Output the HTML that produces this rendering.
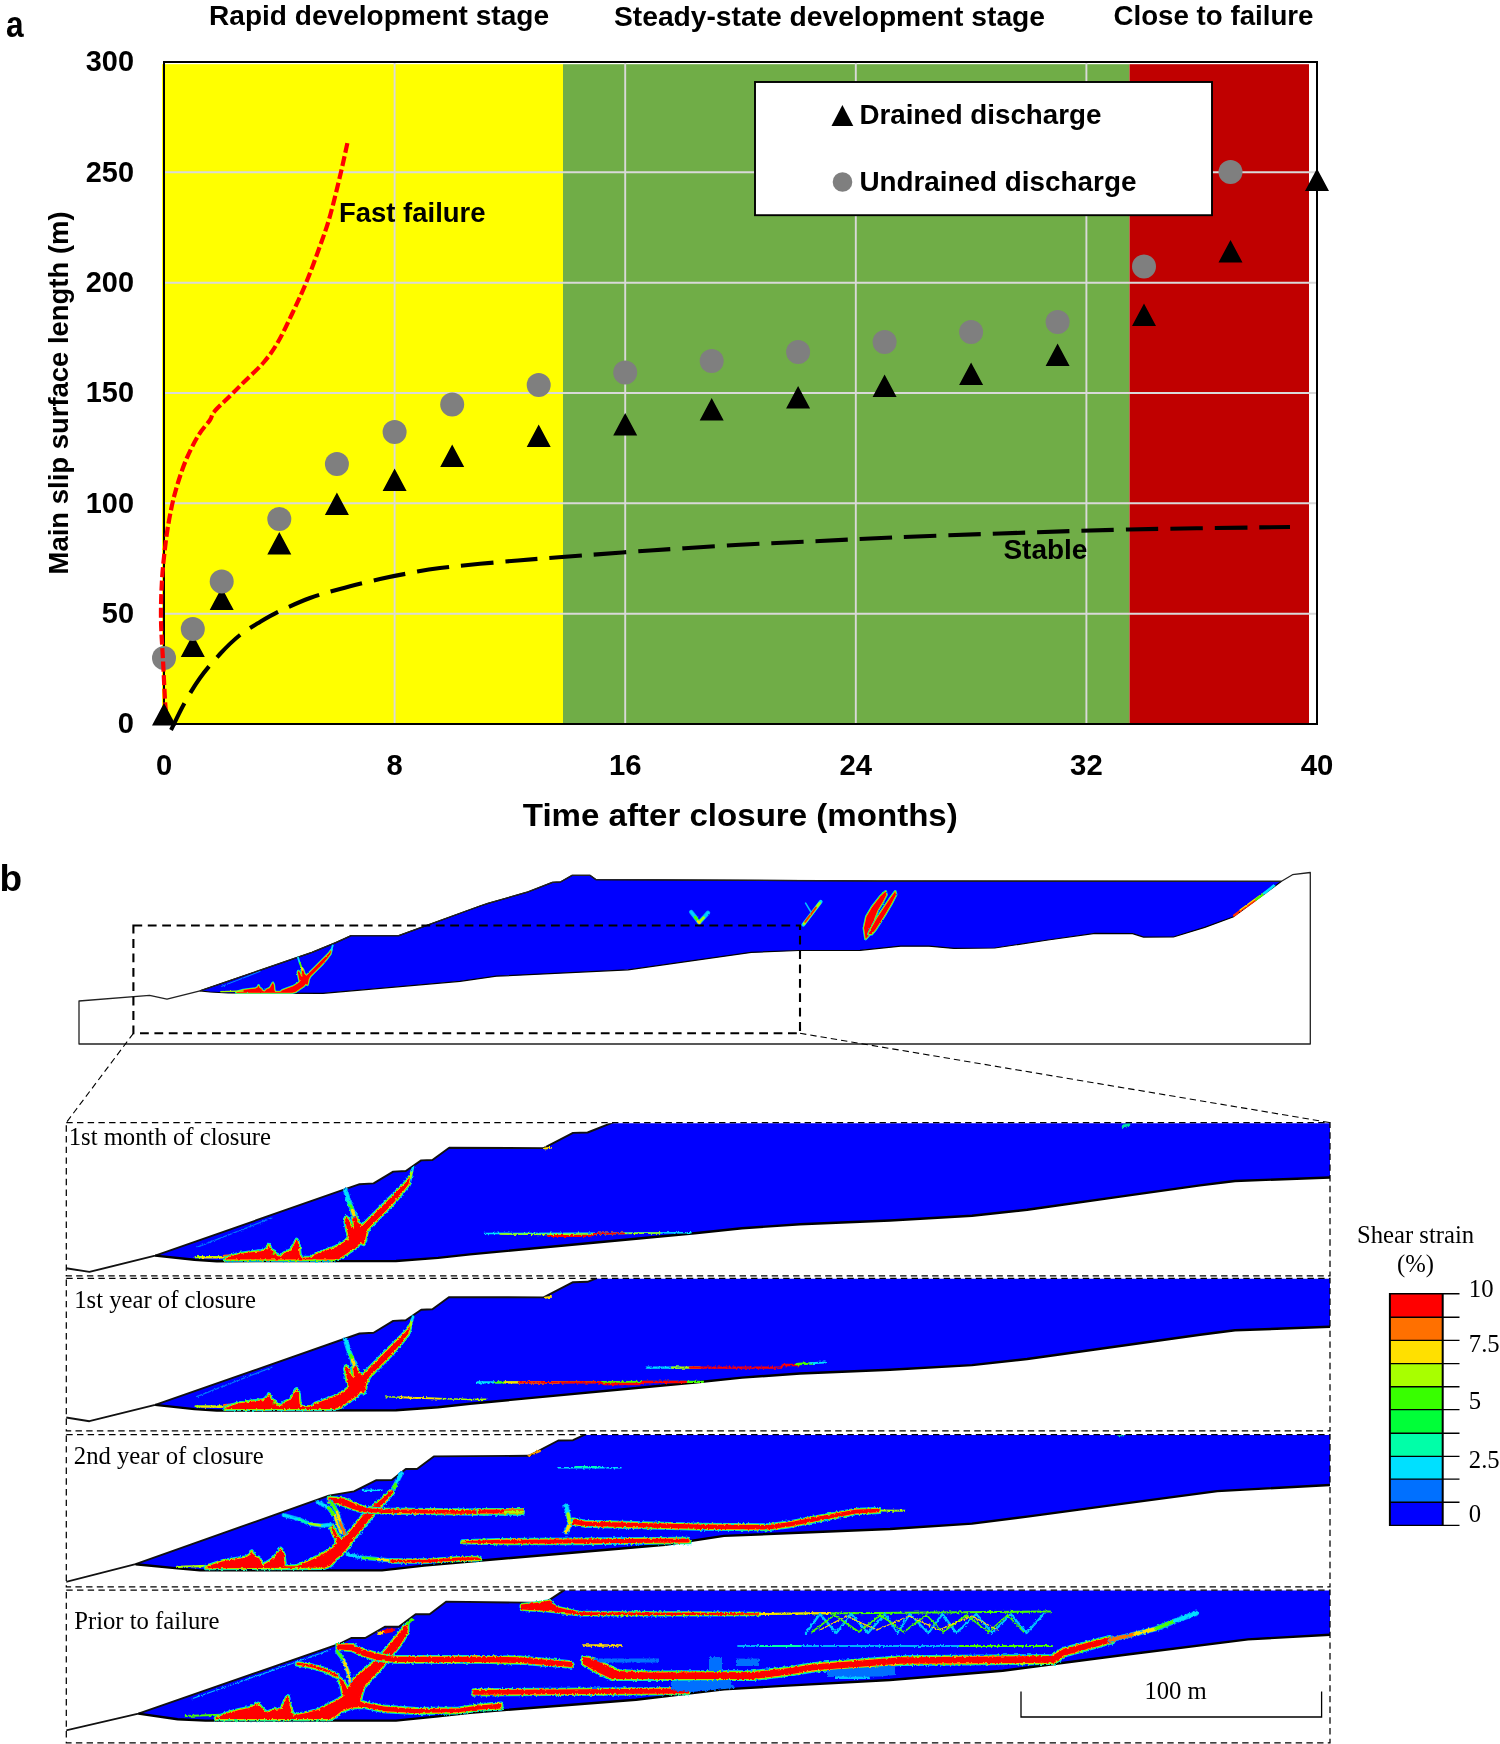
<!DOCTYPE html>
<html lang="en"><head><meta charset="utf-8"><title>Slip surface development</title>
<style>
html,body{margin:0;padding:0;background:#fff}
svg{display:block;will-change:transform}
.sb{font-family:"Liberation Sans", "DejaVu Sans", sans-serif;font-weight:700;fill:#000}
.sr{font-family:"Liberation Serif", "DejaVu Serif", serif;font-weight:400;fill:#000}
</style></head><body>
<svg width="1500" height="1744" viewBox="0 0 1500 1744">
<rect width="1500" height="1744" fill="#fff"/>
<g id="chart">
<rect x="162" y="64.2" width="401" height="659.8" fill="#FFFF00"/>
<rect x="563" y="64.2" width="566.5" height="659.8" fill="#70AD47"/>
<rect x="1129.5" y="64.2" width="179.5" height="659.8" fill="#C00000"/>
<path d="M164.0,613.7H1317.0M164.0,503.3H1317.0M164.0,393.0H1317.0M164.0,282.7H1317.0M164.0,172.3H1317.0M394.6,62.0V724.0M625.2,62.0V724.0M855.8,62.0V724.0M1086.4,62.0V724.0" stroke="#D9D9D9" stroke-width="1.9" fill="none"/>
<rect x="164.0" y="62.0" width="1153.0" height="662.0" fill="none" stroke="#000" stroke-width="2"/>
<path d="M171.0,730.0 C173.2,725.7 179.2,712.7 184.0,704.0 C188.8,695.3 194.0,686.3 200.0,678.0 C206.0,669.7 213.3,661.2 220.0,654.0 C226.7,646.8 233.3,640.3 240.0,635.0 C246.7,629.7 253.3,626.0 260.0,622.0 C266.7,618.0 271.7,615.0 280.0,611.0 C288.3,607.0 300.0,601.7 310.0,598.0 C320.0,594.3 328.3,592.2 340.0,589.0 C351.7,585.8 368.3,581.7 380.0,579.0 C391.7,576.3 400.0,574.8 410.0,573.0 C420.0,571.2 425.0,569.8 440.0,568.0 C455.0,566.2 479.7,563.8 500.0,562.0 C520.3,560.2 537.0,558.9 562.0,557.0 C587.0,555.1 620.3,552.5 650.0,550.5 C679.7,548.5 711.7,546.4 740.0,544.8 C768.3,543.2 794.4,542.2 820.0,541.0 C845.6,539.8 863.6,538.6 893.6,537.4 C923.6,536.1 960.8,534.8 1000.0,533.5 C1039.2,532.2 1080.7,530.6 1129.0,529.5 C1177.3,528.4 1263.2,527.4 1290.0,527.0" fill="none" stroke="#000" stroke-width="4.1" stroke-dasharray="32.4 12" stroke-dashoffset="2.5"/>
<path d="M180.8,657.0L192.8,634.5L204.8,657.0ZM209.7,610.0L221.7,587.5L233.7,610.0ZM267.3,554.5L279.3,532.0L291.3,554.5ZM324.9,515.0L336.9,492.5L348.9,515.0ZM382.6,491.0L394.6,468.5L406.6,491.0ZM440.2,467.0L452.2,444.5L464.2,467.0ZM526.7,447.0L538.7,424.5L550.7,447.0ZM613.2,435.5L625.2,413.0L637.2,435.5ZM699.7,420.5L711.7,398.0L723.7,420.5ZM786.1,408.5L798.1,386.0L810.1,408.5ZM872.6,397.0L884.6,374.5L896.6,397.0ZM959.1,385.0L971.1,362.5L983.1,385.0ZM1045.6,366.0L1057.6,343.5L1069.6,366.0ZM1132.0,326.0L1144.0,303.5L1156.0,326.0ZM1218.5,262.5L1230.5,240.0L1242.5,262.5ZM1305.0,191.0L1317.0,168.5L1329.0,191.0Z" fill="#000"/>
<circle cx="164.0" cy="658" r="12" fill="#7F7F7F"/>
<path d="M166.0,712.0 C165.8,710.0 165.5,708.7 165.0,700.0 C164.5,691.3 163.7,673.3 163.0,660.0 C162.3,646.7 161.2,633.3 161.0,620.0 C160.8,606.7 161.2,593.3 162.0,580.0 C162.8,566.7 164.5,551.7 166.0,540.0 C167.5,528.3 169.2,519.0 171.0,510.0 C172.8,501.0 174.5,494.3 177.0,486.0 C179.5,477.7 182.5,468.3 186.0,460.0 C189.5,451.7 194.0,442.7 198.0,436.0 C202.0,429.3 207.3,424.0 210.0,420.0 C212.7,416.0 210.7,416.0 214.0,412.0 C217.3,408.0 225.0,401.0 230.0,396.0 C235.0,391.0 238.3,387.7 244.0,382.0 C249.7,376.3 258.3,368.7 264.0,362.0 C269.7,355.3 273.3,350.0 278.0,342.0 C282.7,334.0 287.3,323.8 292.0,314.0 C296.7,304.2 301.3,294.3 306.0,283.0 C310.7,271.7 316.0,257.2 320.0,246.0 C324.0,234.8 326.5,228.3 330.0,216.0 C333.5,203.7 338.1,184.2 341.0,172.0 C343.9,159.8 346.3,147.8 347.4,143.0" fill="none" stroke="#FF0000" stroke-width="4.2" stroke-dasharray="10 3.5"/>
<path d="M152.0,725.5L164.0,703.0L176.0,725.5Z" fill="#000"/>
<circle cx="192.8" cy="629" r="12" fill="#7F7F7F"/>
<circle cx="221.7" cy="581.5" r="12" fill="#7F7F7F"/>
<circle cx="279.3" cy="519" r="12" fill="#7F7F7F"/>
<circle cx="336.9" cy="464" r="12" fill="#7F7F7F"/>
<circle cx="394.6" cy="432" r="12" fill="#7F7F7F"/>
<circle cx="452.2" cy="404.5" r="12" fill="#7F7F7F"/>
<circle cx="538.7" cy="385" r="12" fill="#7F7F7F"/>
<circle cx="625.2" cy="372.5" r="12" fill="#7F7F7F"/>
<circle cx="711.7" cy="361" r="12" fill="#7F7F7F"/>
<circle cx="798.1" cy="352" r="12" fill="#7F7F7F"/>
<circle cx="884.6" cy="342" r="12" fill="#7F7F7F"/>
<circle cx="971.1" cy="332" r="12" fill="#7F7F7F"/>
<circle cx="1057.6" cy="322" r="12" fill="#7F7F7F"/>
<circle cx="1144.0" cy="266.5" r="12" fill="#7F7F7F"/>
<circle cx="1230.5" cy="172" r="12" fill="#7F7F7F"/>
<rect x="755" y="82" width="457" height="133.2" fill="#fff" stroke="#000" stroke-width="1.9"/>
<path d="M831.5,126L842.4,105L853.3,126Z" fill="#000"/>
<circle cx="842.5" cy="182" r="9.8" fill="#7F7F7F"/>
<text class="sb" x="859.4" y="124.2" font-size="27.6" textLength="242" lengthAdjust="spacingAndGlyphs">Drained discharge</text>
<text class="sb" x="859.4" y="191.4" font-size="27.6" textLength="277" lengthAdjust="spacingAndGlyphs">Undrained discharge</text>
<text class="sb" x="209" y="25.2" font-size="27" textLength="340" lengthAdjust="spacingAndGlyphs">Rapid development stage</text>
<text class="sb" x="614" y="25.5" font-size="27" textLength="431" lengthAdjust="spacingAndGlyphs">Steady-state development stage</text>
<text class="sb" x="1113.5" y="25" font-size="27" textLength="200" lengthAdjust="spacingAndGlyphs">Close to failure</text>
<text class="sb" x="6" y="36.6" font-size="36" textLength="17.6" lengthAdjust="spacingAndGlyphs">a</text>
<text class="sb" x="339" y="222" font-size="28" textLength="146.5" lengthAdjust="spacingAndGlyphs">Fast failure</text>
<text class="sb" x="1003.4" y="559.2" font-size="28" textLength="84" lengthAdjust="spacingAndGlyphs">Stable</text>
<text class="sb" x="117.8" y="733.3" font-size="30" textLength="16.2" lengthAdjust="spacingAndGlyphs">0</text>
<text class="sb" x="101.8" y="622.9666666666666" font-size="30" textLength="32.2" lengthAdjust="spacingAndGlyphs">50</text>
<text class="sb" x="85.8" y="512.6333333333333" font-size="30" textLength="48.2" lengthAdjust="spacingAndGlyphs">100</text>
<text class="sb" x="85.8" y="402.3" font-size="30" textLength="48.2" lengthAdjust="spacingAndGlyphs">150</text>
<text class="sb" x="85.8" y="291.9666666666667" font-size="30" textLength="48.2" lengthAdjust="spacingAndGlyphs">200</text>
<text class="sb" x="85.8" y="181.63333333333338" font-size="30" textLength="48.2" lengthAdjust="spacingAndGlyphs">250</text>
<text class="sb" x="85.8" y="71.3" font-size="30" textLength="48.2" lengthAdjust="spacingAndGlyphs">300</text>
<text class="sb" x="155.9" y="774.8" font-size="30" textLength="16.2" lengthAdjust="spacingAndGlyphs">0</text>
<text class="sb" x="386.5" y="774.8" font-size="30" textLength="16.2" lengthAdjust="spacingAndGlyphs">8</text>
<text class="sb" x="608.9000000000001" y="774.8" font-size="30" textLength="32.6" lengthAdjust="spacingAndGlyphs">16</text>
<text class="sb" x="839.5" y="774.8" font-size="30" textLength="32.6" lengthAdjust="spacingAndGlyphs">24</text>
<text class="sb" x="1070.1000000000001" y="774.8" font-size="30" textLength="32.6" lengthAdjust="spacingAndGlyphs">32</text>
<text class="sb" x="1300.7" y="774.8" font-size="30" textLength="32.6" lengthAdjust="spacingAndGlyphs">40</text>
<text class="sb" x="522.8" y="825.6" font-size="30.7" textLength="435" lengthAdjust="spacingAndGlyphs">Time after closure (months)</text>
<text class="sb" font-size="28.4" transform="translate(68.2,574.4) rotate(-90)" textLength="363" lengthAdjust="spacingAndGlyphs">Main slip surface length (m)</text>
</g>
<g id="slopes">
<text class="sb" x="-0.5" y="891.2" font-size="37">b</text>
<polygon points="200.0,990.8 312.0,952.4 335.8,942.6 351.2,935.6 398.8,935.6 480.0,906.0 488.0,903.4 527.2,892.2 552.4,882.4 560.8,881.8 572.0,875.4 590.2,875.4 595.8,879.6 880.0,881.0 1281.5,881.3 1233.0,917.0 1204.7,927.4 1173.4,937.0 1143.6,937.1 1132.6,933.6 1095.0,933.3 1048.0,940.0 994.8,948.0 954.0,948.4 929.0,946.2 900.7,946.2 860.0,950.3 846.4,950.5 798.8,950.5 751.2,952.4 628.0,969.8 496.4,976.2 460.0,981.3 323.0,993.3 228.0,993.0 210.0,992.0" fill="#0000FF" stroke="#000" stroke-width="1.2" stroke-linejoin="round"/>
<polygon points="79.0,1044.0 79.0,1001.0 149.6,995.3 167.0,999.2 200.0,990.8 312.0,952.4 335.8,942.6 351.2,935.6 398.8,935.6 480.0,906.0 488.0,903.4 527.2,892.2 552.4,882.4 560.8,881.8 572.0,875.4 590.2,875.4 595.8,879.6 880.0,881.0 1281.5,881.3 1292.5,874.7 1310.3,872.5 1310.3,1044.0" fill="none" stroke="#222" stroke-width="1.3" stroke-linejoin="round"/>
<g filter="url(#rough2)">
<polygon points="236.2,992.4 239.6,991.0 243.1,990.0 248.5,989.3 255.6,988.4 257.7,987.3 258.6,985.3 259.5,987.7 261.4,988.9 262.8,991.0 264.7,991.4 266.3,989.6 269.9,988.0 271.5,985.1 272.9,982.7 273.9,985.1 274.4,990.2 275.3,991.9 280.6,991.8 282.4,990.2 286.9,988.5 293.1,986.3 297.6,983.6 299.8,981.7 299.0,978.4 297.8,972.3 298.3,971.0 299.6,972.3 301.0,975.7 302.3,977.0 302.0,972.1 301.4,967.8 302.9,969.2 304.5,973.9 306.5,975.7 309.2,973.0 315.4,966.8 322.6,959.6 328.8,953.4 331.5,949.8 330.4,954.1 326.3,959.4 321.9,964.6 315.6,970.9 310.4,976.1 308.8,979.1 308.1,982.8 307.4,984.9 305.8,983.7 303.8,986.2 301.1,988.0 298.5,989.8 295.8,991.7 292.2,992.8 236.2,992.8" fill="#00D8FF" stroke="#00D8FF" stroke-width="2.5" stroke-linejoin="round"/>
<polygon points="236.2,992.4 239.6,991.0 243.1,990.0 248.5,989.3 255.6,988.4 257.7,987.3 258.6,985.3 259.5,987.7 261.4,988.9 262.8,991.0 264.7,991.4 266.3,989.6 269.9,988.0 271.5,985.1 272.9,982.7 273.9,985.1 274.4,990.2 275.3,991.9 280.6,991.8 282.4,990.2 286.9,988.5 293.1,986.3 297.6,983.6 299.8,981.7 299.0,978.4 297.8,972.3 298.3,971.0 299.6,972.3 301.0,975.7 302.3,977.0 302.0,972.1 301.4,967.8 302.9,969.2 304.5,973.9 306.5,975.7 309.2,973.0 315.4,966.8 322.6,959.6 328.8,953.4 331.5,949.8 330.4,954.1 326.3,959.4 321.9,964.6 315.6,970.9 310.4,976.1 308.8,979.1 308.1,982.8 307.4,984.9 305.8,983.7 303.8,986.2 301.1,988.0 298.5,989.8 295.8,991.7 292.2,992.8 236.2,992.8" fill="#48FF00" stroke="#48FF00" stroke-width="1.6" stroke-linejoin="round"/>
<polygon points="236.2,992.4 239.6,991.0 243.1,990.0 248.5,989.3 255.6,988.4 257.7,987.3 258.6,985.3 259.5,987.7 261.4,988.9 262.8,991.0 264.7,991.4 266.3,989.6 269.9,988.0 271.5,985.1 272.9,982.7 273.9,985.1 274.4,990.2 275.3,991.9 280.6,991.8 282.4,990.2 286.9,988.5 293.1,986.3 297.6,983.6 299.8,981.7 299.0,978.4 297.8,972.3 298.3,971.0 299.6,972.3 301.0,975.7 302.3,977.0 302.0,972.1 301.4,967.8 302.9,969.2 304.5,973.9 306.5,975.7 309.2,973.0 315.4,966.8 322.6,959.6 328.8,953.4 331.5,949.8 330.4,954.1 326.3,959.4 321.9,964.6 315.6,970.9 310.4,976.1 308.8,979.1 308.1,982.8 307.4,984.9 305.8,983.7 303.8,986.2 301.1,988.0 298.5,989.8 295.8,991.7 292.2,992.8 236.2,992.8" fill="#FFE000" stroke="#FFE000" stroke-width="0.7" stroke-linejoin="round"/>
<polygon points="236.2,992.4 239.6,991.0 243.1,990.0 248.5,989.3 255.6,988.4 257.7,987.3 258.6,985.3 259.5,987.7 261.4,988.9 262.8,991.0 264.7,991.4 266.3,989.6 269.9,988.0 271.5,985.1 272.9,982.7 273.9,985.1 274.4,990.2 275.3,991.9 280.6,991.8 282.4,990.2 286.9,988.5 293.1,986.3 297.6,983.6 299.8,981.7 299.0,978.4 297.8,972.3 298.3,971.0 299.6,972.3 301.0,975.7 302.3,977.0 302.0,972.1 301.4,967.8 302.9,969.2 304.5,973.9 306.5,975.7 309.2,973.0 315.4,966.8 322.6,959.6 328.8,953.4 331.5,949.8 330.4,954.1 326.3,959.4 321.9,964.6 315.6,970.9 310.4,976.1 308.8,979.1 308.1,982.8 307.4,984.9 305.8,983.7 303.8,986.2 301.1,988.0 298.5,989.8 295.8,991.7 292.2,992.8 236.2,992.8" fill="#FF0000"/>
<path d="M220.8,991.6 L243.1,991.0" fill="none" stroke="#A8FF00" stroke-width="1.4" stroke-linecap="round" stroke-linejoin="round"/>
<path d="M298.0,957.4 L299.8,963.2" fill="none" stroke="#00E0FF" stroke-width="1.8" stroke-linecap="round" stroke-linejoin="round"/>
<path d="M299.8,963.2 L301.6,967.7" fill="none" stroke="#48FF00" stroke-width="1.8" stroke-linecap="round" stroke-linejoin="round"/>
<path d="M301.6,967.7 L302.5,969.9" fill="none" stroke="#FFE000" stroke-width="1.8" stroke-linecap="round" stroke-linejoin="round"/>
<path d="M331.5,949.8 L332.8,945.3" fill="none" stroke="#00E0FF" stroke-width="1.8" stroke-linecap="round" stroke-linejoin="round"/>
<path d="M221.7,986.4 L260.1,971.4" fill="none" stroke="#00A0FF" stroke-width="0.9" stroke-linecap="round" stroke-linejoin="round"/>
<path d="M691.2,912.0 L695.2,917.1 L699.2,922.4" fill="none" stroke="#00A8FF" stroke-width="4.4" stroke-linecap="round" stroke-linejoin="round"/>
<path d="M691.2,912.0 L695.2,917.1" fill="none" stroke="#00D0FF" stroke-width="2.6" stroke-linecap="round" stroke-linejoin="round"/>
<path d="M695.2,917.1 L699.2,922.4" fill="none" stroke="#48FF00" stroke-width="2.6" stroke-linecap="round" stroke-linejoin="round"/>
<path d="M708.0,912.8 L703.7,917.6 L699.2,922.4" fill="none" stroke="#00A8FF" stroke-width="4.4" stroke-linecap="round" stroke-linejoin="round"/>
<path d="M708.0,912.8 L703.7,917.6" fill="none" stroke="#00D0FF" stroke-width="2.6" stroke-linecap="round" stroke-linejoin="round"/>
<path d="M703.7,917.6 L699.2,922.4" fill="none" stroke="#A8FF00" stroke-width="2.6" stroke-linecap="round" stroke-linejoin="round"/>
<path d="M697.9,921.3 L699.5,922.9" fill="none" stroke="#FFE000" stroke-width="2.4" stroke-linecap="round" stroke-linejoin="round"/>
<path d="M805.6,903.2 L810.4,911.2" fill="none" stroke="#00C0FF" stroke-width="1.6" stroke-linecap="round" stroke-linejoin="round"/>
<path d="M803.2,924.8 L820.8,901.6" fill="none" stroke="#00D8FF" stroke-width="3.6" stroke-linecap="round" stroke-linejoin="round"/>
<path d="M804.0,923.7 L819.5,903.4" fill="none" stroke="#A8FF00" stroke-width="2.6" stroke-linecap="round" stroke-linejoin="round"/>
<path d="M805.1,921.9 L816.0,907.5" fill="none" stroke="#FF2000" stroke-width="1.7" stroke-linecap="round" stroke-linejoin="round"/>
<polygon points="865.6,938.9 864.0,928.0 866.4,916.8 872.0,907.2 880.0,896.8 885.6,891.5 886.4,894.7 882.4,902.4 877.6,910.4 874.4,918.4 872.5,926.4 869.6,934.4" fill="#00D8FF" stroke="#00D8FF" stroke-width="2.9" stroke-linejoin="round"/>
<polygon points="865.6,938.9 864.0,928.0 866.4,916.8 872.0,907.2 880.0,896.8 885.6,891.5 886.4,894.7 882.4,902.4 877.6,910.4 874.4,918.4 872.5,926.4 869.6,934.4" fill="#48FF00" stroke="#48FF00" stroke-width="1.9" stroke-linejoin="round"/>
<polygon points="865.6,938.9 864.0,928.0 866.4,916.8 872.0,907.2 880.0,896.8 885.6,891.5 886.4,894.7 882.4,902.4 877.6,910.4 874.4,918.4 872.5,926.4 869.6,934.4" fill="#FFE000" stroke="#FFE000" stroke-width="0.8" stroke-linejoin="round"/>
<polygon points="865.6,938.9 864.0,928.0 866.4,916.8 872.0,907.2 880.0,896.8 885.6,891.5 886.4,894.7 882.4,902.4 877.6,910.4 874.4,918.4 872.5,926.4 869.6,934.4" fill="#FF0000"/>
<polygon points="868.5,934.1 871.4,928.0 876.8,918.4 883.2,908.8 889.6,899.2 895.2,891.5 896.0,894.7 891.2,904.0 885.6,913.6 880.0,922.4 875.5,929.6 871.7,934.1" fill="#00D8FF" stroke="#00D8FF" stroke-width="2.9" stroke-linejoin="round"/>
<polygon points="868.5,934.1 871.4,928.0 876.8,918.4 883.2,908.8 889.6,899.2 895.2,891.5 896.0,894.7 891.2,904.0 885.6,913.6 880.0,922.4 875.5,929.6 871.7,934.1" fill="#48FF00" stroke="#48FF00" stroke-width="1.9" stroke-linejoin="round"/>
<polygon points="868.5,934.1 871.4,928.0 876.8,918.4 883.2,908.8 889.6,899.2 895.2,891.5 896.0,894.7 891.2,904.0 885.6,913.6 880.0,922.4 875.5,929.6 871.7,934.1" fill="#FFE000" stroke="#FFE000" stroke-width="0.8" stroke-linejoin="round"/>
<polygon points="868.5,934.1 871.4,928.0 876.8,918.4 883.2,908.8 889.6,899.2 895.2,891.5 896.0,894.7 891.2,904.0 885.6,913.6 880.0,922.4 875.5,929.6 871.7,934.1" fill="#FF0000"/>
<path d="M1234.0,915.5 L1247.0,906.0 L1256.0,899.5" fill="none" stroke="#FF3000" stroke-width="2.2" stroke-linecap="round" stroke-linejoin="round"/>
<path d="M1240.0,910.0 L1262.0,894.0" fill="none" stroke="#FFE000" stroke-width="1.2" stroke-linecap="round" stroke-linejoin="round"/>
<path d="M1256.0,899.5 L1266.0,892.0" fill="none" stroke="#48FF00" stroke-width="2.2" stroke-linecap="round" stroke-linejoin="round"/>
<path d="M1264.0,893.5 L1274.0,885.5" fill="none" stroke="#00E0FF" stroke-width="2.6" stroke-linecap="round" stroke-linejoin="round"/>
</g>
<rect x="133.4" y="925.5" width="666.6" height="107.8" fill="none" stroke="#000" stroke-width="2.1" stroke-dasharray="8.8 5.6"/>
<path d="M133.4,1033.3L66.3,1122.6M800,1033.3L1330,1122.6" fill="none" stroke="#000" stroke-width="1.1" stroke-dasharray="6.4 4"/>
<defs>
<clipPath id="cp0"><rect x="66.3" y="1123.2" width="1263.7" height="152.7"/></clipPath>
<clipPath id="cp1"><rect x="66.3" y="1278.8" width="1263.7" height="152.0"/></clipPath>
<clipPath id="cp2"><rect x="66.3" y="1435.0" width="1263.7" height="151.9"/></clipPath>
<clipPath id="cp3"><rect x="66.3" y="1590.5" width="1263.7" height="152.4"/></clipPath>
<filter id="rough" filterUnits="userSpaceOnUse" x="60" y="1115" width="1280" height="635"><feTurbulence type="fractalNoise" baseFrequency="0.42" numOctaves="2" seed="7" result="n"/><feDisplacementMap in="SourceGraphic" in2="n" scale="3.2" xChannelSelector="R" yChannelSelector="G"/></filter>
<filter id="rough2" filterUnits="userSpaceOnUse" x="70" y="865" width="1250" height="185"><feTurbulence type="fractalNoise" baseFrequency="0.5" numOctaves="2" seed="3" result="n"/><feDisplacementMap in="SourceGraphic" in2="n" scale="2" xChannelSelector="R" yChannelSelector="G"/></filter>
</defs>
<g clip-path="url(#cp0)">
<polygon points="155.2,1255.6 359.6,1184.2 373.6,1183.4 393.2,1171.6 405.8,1171.0 421.2,1160.4 432.4,1160.0 449.2,1147.8 543.6,1148.1 573.0,1132.9 587.6,1132.5 612.5,1122.6 640.0,1112.0 1332.0,1112.0 1332.0,1177.4 1330.0,1177.5 1235.0,1181.0 1200.0,1185.4 1125.3,1195.9 1027.2,1209.7 972.0,1215.8 890.0,1220.5 800.0,1224.2 742.0,1228.3 694.7,1233.2 470.0,1254.4 438.0,1257.9 396.0,1261.0 216.8,1261.2 194.4,1259.8" fill="#0000FF"/>
<polyline points="66.0,1268.2 89.4,1271.9 155.2,1255.6 155.2,1255.6 359.6,1184.2 373.6,1183.4 393.2,1171.6 405.8,1171.0 421.2,1160.4 432.4,1160.0 449.2,1147.8 543.6,1148.1 573.0,1132.9 587.6,1132.5 612.5,1122.6 640.0,1112.0 1332.0,1112.0" fill="none" stroke="#111" stroke-width="1.9" stroke-linejoin="round"/>
<polyline points="155.2,1255.6 194.4,1259.8 216.8,1261.2 396.0,1261.0 438.0,1257.9 470.0,1254.4 694.7,1233.2 742.0,1228.3 800.0,1224.2 890.0,1220.5 972.0,1215.8 1027.2,1209.7 1125.3,1195.9 1200.0,1185.4 1235.0,1181.0 1330.0,1177.5 1332.0,1177.4" fill="none" stroke="#000" stroke-width="2.4" stroke-linejoin="round"/>
<g filter="url(#rough)">
<path d="M195.6,1257.1 L225.1,1257.1" fill="none" stroke="#A8FF00" stroke-width="2.2" stroke-linecap="round" stroke-linejoin="round"/>
<path d="M200.8,1257.5 L223.3,1257.8" fill="none" stroke="#FFE000" stroke-width="1.4" stroke-linecap="round" stroke-linejoin="round"/>
<path d="M224.2,1256.4 L239.8,1255.0" fill="none" stroke="#FF7000" stroke-width="3.2" stroke-linecap="round" stroke-linejoin="round"/>
<polygon points="225.4,1258.7 232.0,1256.1 238.9,1254.0 249.3,1252.6 263.2,1250.9 267.2,1248.8 268.9,1245.0 270.8,1249.7 274.5,1251.9 277.1,1256.1 280.9,1256.8 284.0,1253.3 290.9,1250.2 294.1,1244.5 296.7,1239.8 298.7,1244.5 299.6,1254.4 301.3,1257.8 311.7,1257.5 315.2,1254.5 323.9,1251.2 336.0,1246.9 344.7,1241.7 349.0,1237.9 347.4,1231.5 345.0,1219.7 346.1,1217.1 348.7,1219.7 351.3,1226.3 353.9,1228.9 353.3,1219.3 352.1,1211.0 355.1,1213.6 358.2,1222.8 362.0,1226.3 367.2,1221.1 379.3,1208.9 393.2,1195.1 405.3,1182.9 410.5,1176.0 408.5,1184.3 400.5,1194.7 391.8,1204.8 379.7,1216.9 369.6,1227.0 366.5,1232.9 365.1,1240.1 363.7,1244.1 360.6,1241.9 356.8,1246.7 351.6,1250.2 346.4,1253.7 341.2,1257.3 334.3,1259.6 225.4,1259.6" fill="#00D8FF" stroke="#00D8FF" stroke-width="4.2" stroke-linejoin="round"/>
<polygon points="225.4,1258.7 232.0,1256.1 238.9,1254.0 249.3,1252.6 263.2,1250.9 267.2,1248.8 268.9,1245.0 270.8,1249.7 274.5,1251.9 277.1,1256.1 280.9,1256.8 284.0,1253.3 290.9,1250.2 294.1,1244.5 296.7,1239.8 298.7,1244.5 299.6,1254.4 301.3,1257.8 311.7,1257.5 315.2,1254.5 323.9,1251.2 336.0,1246.9 344.7,1241.7 349.0,1237.9 347.4,1231.5 345.0,1219.7 346.1,1217.1 348.7,1219.7 351.3,1226.3 353.9,1228.9 353.3,1219.3 352.1,1211.0 355.1,1213.6 358.2,1222.8 362.0,1226.3 367.2,1221.1 379.3,1208.9 393.2,1195.1 405.3,1182.9 410.5,1176.0 408.5,1184.3 400.5,1194.7 391.8,1204.8 379.7,1216.9 369.6,1227.0 366.5,1232.9 365.1,1240.1 363.7,1244.1 360.6,1241.9 356.8,1246.7 351.6,1250.2 346.4,1253.7 341.2,1257.3 334.3,1259.6 225.4,1259.6" fill="#48FF00" stroke="#48FF00" stroke-width="2.7" stroke-linejoin="round"/>
<polygon points="225.4,1258.7 232.0,1256.1 238.9,1254.0 249.3,1252.6 263.2,1250.9 267.2,1248.8 268.9,1245.0 270.8,1249.7 274.5,1251.9 277.1,1256.1 280.9,1256.8 284.0,1253.3 290.9,1250.2 294.1,1244.5 296.7,1239.8 298.7,1244.5 299.6,1254.4 301.3,1257.8 311.7,1257.5 315.2,1254.5 323.9,1251.2 336.0,1246.9 344.7,1241.7 349.0,1237.9 347.4,1231.5 345.0,1219.7 346.1,1217.1 348.7,1219.7 351.3,1226.3 353.9,1228.9 353.3,1219.3 352.1,1211.0 355.1,1213.6 358.2,1222.8 362.0,1226.3 367.2,1221.1 379.3,1208.9 393.2,1195.1 405.3,1182.9 410.5,1176.0 408.5,1184.3 400.5,1194.7 391.8,1204.8 379.7,1216.9 369.6,1227.0 366.5,1232.9 365.1,1240.1 363.7,1244.1 360.6,1241.9 356.8,1246.7 351.6,1250.2 346.4,1253.7 341.2,1257.3 334.3,1259.6 225.4,1259.6" fill="#FFE000" stroke="#FFE000" stroke-width="1.2" stroke-linejoin="round"/>
<polygon points="225.4,1258.7 232.0,1256.1 238.9,1254.0 249.3,1252.6 263.2,1250.9 267.2,1248.8 268.9,1245.0 270.8,1249.7 274.5,1251.9 277.1,1256.1 280.9,1256.8 284.0,1253.3 290.9,1250.2 294.1,1244.5 296.7,1239.8 298.7,1244.5 299.6,1254.4 301.3,1257.8 311.7,1257.5 315.2,1254.5 323.9,1251.2 336.0,1246.9 344.7,1241.7 349.0,1237.9 347.4,1231.5 345.0,1219.7 346.1,1217.1 348.7,1219.7 351.3,1226.3 353.9,1228.9 353.3,1219.3 352.1,1211.0 355.1,1213.6 358.2,1222.8 362.0,1226.3 367.2,1221.1 379.3,1208.9 393.2,1195.1 405.3,1182.9 410.5,1176.0 408.5,1184.3 400.5,1194.7 391.8,1204.8 379.7,1216.9 369.6,1227.0 366.5,1232.9 365.1,1240.1 363.7,1244.1 360.6,1241.9 356.8,1246.7 351.6,1250.2 346.4,1253.7 341.2,1257.3 334.3,1259.6 225.4,1259.6" fill="#FF0000"/>
<path d="M345.5,1190.7 L347.3,1196.5 L349.0,1202.0 L350.7,1206.3 L352.5,1210.7 L354.2,1215.0" fill="none" stroke="#00A8FF" stroke-width="5.2" stroke-linecap="round" stroke-linejoin="round"/>
<path d="M345.5,1190.7 L347.3,1196.5" fill="none" stroke="#00E0FF" stroke-width="3.4" stroke-linecap="round" stroke-linejoin="round"/>
<path d="M347.3,1196.5 L349.0,1202.0" fill="none" stroke="#00E0FF" stroke-width="3.4" stroke-linecap="round" stroke-linejoin="round"/>
<path d="M349.0,1202.0 L350.7,1206.3" fill="none" stroke="#00FFA8" stroke-width="3.4" stroke-linecap="round" stroke-linejoin="round"/>
<path d="M350.7,1206.3 L352.5,1210.7" fill="none" stroke="#48FF00" stroke-width="3.4" stroke-linecap="round" stroke-linejoin="round"/>
<path d="M352.5,1210.7 L354.2,1215.0" fill="none" stroke="#FFE000" stroke-width="3.4" stroke-linecap="round" stroke-linejoin="round"/>
<path d="M410.5,1176.0 L411.9,1171.1" fill="none" stroke="#A8FF00" stroke-width="3" stroke-linecap="round" stroke-linejoin="round"/>
<path d="M411.9,1171.1 L413.1,1167.3" fill="none" stroke="#00E0FF" stroke-width="2.5" stroke-linecap="round" stroke-linejoin="round"/>
<path d="M197.3,1247.1 L271.9,1217.9" fill="none" stroke="#0078FF" stroke-width="1.2" stroke-linecap="round" stroke-linejoin="round"/>
<path d="M273.6,1254.0 L274.5,1252.3" fill="none" stroke="#48FF00" stroke-width="2" stroke-linecap="round" stroke-linejoin="round"/>
<path d="M551.0,1147.8 L545.0,1148.4" fill="none" stroke="#FFE000" stroke-width="2" stroke-linecap="round" stroke-linejoin="round"/>
<path d="M485.0,1233.5 L690.0,1232.8" fill="none" stroke="#00E0FF" stroke-width="1.6" stroke-linecap="round" stroke-linejoin="round"/>
<path d="M500.0,1234.0 L548.0,1234.5 L660.0,1233.0" fill="none" stroke="#A8FF00" stroke-width="1.6" stroke-linecap="round" stroke-linejoin="round"/>
<path d="M548.0,1236.0 L590.0,1236.0 L596.0,1233.4 L624.0,1233.4" fill="none" stroke="#FF0000" stroke-width="1.8" stroke-linecap="round" stroke-linejoin="round"/>
<path d="M1123.0,1126.5 L1129.0,1124.5" fill="none" stroke="#00E0A0" stroke-width="3" stroke-linecap="round" stroke-linejoin="round"/>
</g></g>
<g clip-path="url(#cp1)">
<polygon points="155.2,1404.9 359.6,1333.5 373.6,1332.7 393.2,1320.9 405.8,1320.3 421.2,1309.7 432.4,1309.3 449.2,1297.1 543.6,1297.4 573.0,1282.2 587.6,1281.8 612.5,1271.9 640.0,1261.3 1332.0,1261.3 1332.0,1326.7 1330.0,1326.8 1235.0,1330.3 1200.0,1334.7 1125.3,1345.2 1027.2,1359.0 972.0,1365.1 890.0,1369.8 800.0,1373.5 742.0,1377.6 694.7,1382.5 470.0,1403.7 438.0,1407.2 396.0,1410.3 216.8,1410.5 194.4,1409.1" fill="#0000FF"/>
<polyline points="66.0,1417.5 89.4,1421.2 155.2,1404.9 155.2,1404.9 359.6,1333.5 373.6,1332.7 393.2,1320.9 405.8,1320.3 421.2,1309.7 432.4,1309.3 449.2,1297.1 543.6,1297.4 573.0,1282.2 587.6,1281.8 612.5,1271.9 640.0,1261.3 1332.0,1261.3" fill="none" stroke="#111" stroke-width="1.9" stroke-linejoin="round"/>
<polyline points="155.2,1404.9 194.4,1409.1 216.8,1410.5 396.0,1410.3 438.0,1407.2 470.0,1403.7 694.7,1382.5 742.0,1377.6 800.0,1373.5 890.0,1369.8 972.0,1365.1 1027.2,1359.0 1125.3,1345.2 1200.0,1334.7 1235.0,1330.3 1330.0,1326.8 1332.0,1326.7" fill="none" stroke="#000" stroke-width="2.4" stroke-linejoin="round"/>
<g filter="url(#rough)">
<path d="M195.6,1406.4 L225.1,1406.4" fill="none" stroke="#A8FF00" stroke-width="2.2" stroke-linecap="round" stroke-linejoin="round"/>
<path d="M200.8,1406.8 L223.3,1407.1" fill="none" stroke="#FFE000" stroke-width="1.4" stroke-linecap="round" stroke-linejoin="round"/>
<path d="M224.2,1405.7 L239.8,1404.3" fill="none" stroke="#FF7000" stroke-width="3.2" stroke-linecap="round" stroke-linejoin="round"/>
<polygon points="225.4,1408.0 232.0,1405.4 238.9,1403.3 249.3,1401.9 263.2,1400.2 267.2,1398.1 268.9,1394.3 270.8,1399.0 274.5,1401.2 277.1,1405.4 280.9,1406.1 284.0,1402.6 290.9,1399.5 294.1,1393.8 296.7,1389.1 298.7,1393.8 299.6,1403.7 301.3,1407.1 311.7,1406.8 315.2,1403.8 323.9,1400.5 336.0,1396.2 344.7,1391.0 349.0,1387.2 347.4,1380.8 345.0,1369.0 346.1,1366.4 348.7,1369.0 351.3,1375.6 353.9,1378.2 353.3,1368.6 352.1,1360.3 355.1,1362.9 358.2,1372.1 362.0,1375.6 367.2,1370.4 379.3,1358.2 393.2,1344.4 405.3,1332.2 410.5,1325.3 408.5,1333.6 400.5,1344.0 391.8,1354.1 379.7,1366.2 369.6,1376.3 366.5,1382.2 365.1,1389.4 363.7,1393.4 360.6,1391.2 356.8,1396.0 351.6,1399.5 346.4,1403.0 341.2,1406.6 334.3,1408.9 225.4,1408.9" fill="#00D8FF" stroke="#00D8FF" stroke-width="4.2" stroke-linejoin="round"/>
<polygon points="225.4,1408.0 232.0,1405.4 238.9,1403.3 249.3,1401.9 263.2,1400.2 267.2,1398.1 268.9,1394.3 270.8,1399.0 274.5,1401.2 277.1,1405.4 280.9,1406.1 284.0,1402.6 290.9,1399.5 294.1,1393.8 296.7,1389.1 298.7,1393.8 299.6,1403.7 301.3,1407.1 311.7,1406.8 315.2,1403.8 323.9,1400.5 336.0,1396.2 344.7,1391.0 349.0,1387.2 347.4,1380.8 345.0,1369.0 346.1,1366.4 348.7,1369.0 351.3,1375.6 353.9,1378.2 353.3,1368.6 352.1,1360.3 355.1,1362.9 358.2,1372.1 362.0,1375.6 367.2,1370.4 379.3,1358.2 393.2,1344.4 405.3,1332.2 410.5,1325.3 408.5,1333.6 400.5,1344.0 391.8,1354.1 379.7,1366.2 369.6,1376.3 366.5,1382.2 365.1,1389.4 363.7,1393.4 360.6,1391.2 356.8,1396.0 351.6,1399.5 346.4,1403.0 341.2,1406.6 334.3,1408.9 225.4,1408.9" fill="#48FF00" stroke="#48FF00" stroke-width="2.7" stroke-linejoin="round"/>
<polygon points="225.4,1408.0 232.0,1405.4 238.9,1403.3 249.3,1401.9 263.2,1400.2 267.2,1398.1 268.9,1394.3 270.8,1399.0 274.5,1401.2 277.1,1405.4 280.9,1406.1 284.0,1402.6 290.9,1399.5 294.1,1393.8 296.7,1389.1 298.7,1393.8 299.6,1403.7 301.3,1407.1 311.7,1406.8 315.2,1403.8 323.9,1400.5 336.0,1396.2 344.7,1391.0 349.0,1387.2 347.4,1380.8 345.0,1369.0 346.1,1366.4 348.7,1369.0 351.3,1375.6 353.9,1378.2 353.3,1368.6 352.1,1360.3 355.1,1362.9 358.2,1372.1 362.0,1375.6 367.2,1370.4 379.3,1358.2 393.2,1344.4 405.3,1332.2 410.5,1325.3 408.5,1333.6 400.5,1344.0 391.8,1354.1 379.7,1366.2 369.6,1376.3 366.5,1382.2 365.1,1389.4 363.7,1393.4 360.6,1391.2 356.8,1396.0 351.6,1399.5 346.4,1403.0 341.2,1406.6 334.3,1408.9 225.4,1408.9" fill="#FFE000" stroke="#FFE000" stroke-width="1.2" stroke-linejoin="round"/>
<polygon points="225.4,1408.0 232.0,1405.4 238.9,1403.3 249.3,1401.9 263.2,1400.2 267.2,1398.1 268.9,1394.3 270.8,1399.0 274.5,1401.2 277.1,1405.4 280.9,1406.1 284.0,1402.6 290.9,1399.5 294.1,1393.8 296.7,1389.1 298.7,1393.8 299.6,1403.7 301.3,1407.1 311.7,1406.8 315.2,1403.8 323.9,1400.5 336.0,1396.2 344.7,1391.0 349.0,1387.2 347.4,1380.8 345.0,1369.0 346.1,1366.4 348.7,1369.0 351.3,1375.6 353.9,1378.2 353.3,1368.6 352.1,1360.3 355.1,1362.9 358.2,1372.1 362.0,1375.6 367.2,1370.4 379.3,1358.2 393.2,1344.4 405.3,1332.2 410.5,1325.3 408.5,1333.6 400.5,1344.0 391.8,1354.1 379.7,1366.2 369.6,1376.3 366.5,1382.2 365.1,1389.4 363.7,1393.4 360.6,1391.2 356.8,1396.0 351.6,1399.5 346.4,1403.0 341.2,1406.6 334.3,1408.9 225.4,1408.9" fill="#FF0000"/>
<path d="M345.5,1340.0 L347.3,1345.8 L349.0,1351.3 L350.7,1355.6 L352.5,1360.0 L354.2,1364.3" fill="none" stroke="#00A8FF" stroke-width="5.2" stroke-linecap="round" stroke-linejoin="round"/>
<path d="M345.5,1340.0 L347.3,1345.8" fill="none" stroke="#00E0FF" stroke-width="3.4" stroke-linecap="round" stroke-linejoin="round"/>
<path d="M347.3,1345.8 L349.0,1351.3" fill="none" stroke="#00E0FF" stroke-width="3.4" stroke-linecap="round" stroke-linejoin="round"/>
<path d="M349.0,1351.3 L350.7,1355.6" fill="none" stroke="#00FFA8" stroke-width="3.4" stroke-linecap="round" stroke-linejoin="round"/>
<path d="M350.7,1355.6 L352.5,1360.0" fill="none" stroke="#48FF00" stroke-width="3.4" stroke-linecap="round" stroke-linejoin="round"/>
<path d="M352.5,1360.0 L354.2,1364.3" fill="none" stroke="#FFE000" stroke-width="3.4" stroke-linecap="round" stroke-linejoin="round"/>
<path d="M410.5,1325.3 L411.9,1320.4" fill="none" stroke="#A8FF00" stroke-width="3" stroke-linecap="round" stroke-linejoin="round"/>
<path d="M411.9,1320.4 L413.1,1316.6" fill="none" stroke="#00E0FF" stroke-width="2.5" stroke-linecap="round" stroke-linejoin="round"/>
<path d="M197.3,1396.4 L271.9,1367.2" fill="none" stroke="#0078FF" stroke-width="1.2" stroke-linecap="round" stroke-linejoin="round"/>
<path d="M273.6,1403.3 L274.5,1401.6" fill="none" stroke="#48FF00" stroke-width="2" stroke-linecap="round" stroke-linejoin="round"/>
<path d="M551.0,1297.1 L545.0,1297.7" fill="none" stroke="#FFE000" stroke-width="2" stroke-linecap="round" stroke-linejoin="round"/>
<path d="M386.0,1396.8 L470.0,1399.5 L486.0,1399.3" fill="none" stroke="#A8FF00" stroke-width="1.6" stroke-linecap="round" stroke-linejoin="round"/>
<path d="M400.0,1397.4 L440.0,1398.8" fill="none" stroke="#FFE000" stroke-width="1.6" stroke-linecap="round" stroke-linejoin="round"/>
<path d="M477.6,1382.3 L500.0,1382.3" fill="none" stroke="#00E0FF" stroke-width="2.2" stroke-linecap="round" stroke-linejoin="round"/>
<path d="M495.0,1382.3 L703.0,1381.8" fill="none" stroke="#48FF00" stroke-width="2.2" stroke-linecap="round" stroke-linejoin="round"/>
<path d="M505.0,1382.3 L560.0,1382.3" fill="none" stroke="#FFE000" stroke-width="2.2" stroke-linecap="round" stroke-linejoin="round"/>
<path d="M519.0,1382.3 L600.0,1382.3 L604.0,1384.0 L640.0,1384.0 L644.0,1382.0 L686.0,1382.0" fill="none" stroke="#FF0000" stroke-width="2.3" stroke-linecap="round" stroke-linejoin="round"/>
<path d="M646.4,1367.6 L680.0,1367.6" fill="none" stroke="#00E0FF" stroke-width="2.2" stroke-linecap="round" stroke-linejoin="round"/>
<path d="M672.0,1367.6 L700.0,1367.6" fill="none" stroke="#A8FF00" stroke-width="2.2" stroke-linecap="round" stroke-linejoin="round"/>
<path d="M690.0,1367.6 L781.0,1367.6 L783.0,1365.0 L799.0,1365.0" fill="none" stroke="#FF0000" stroke-width="2.3" stroke-linecap="round" stroke-linejoin="round"/>
<path d="M797.0,1364.0 L812.0,1363.5" fill="none" stroke="#48FF00" stroke-width="2.6" stroke-linecap="round" stroke-linejoin="round"/>
<path d="M810.0,1363.3 L825.0,1362.6" fill="none" stroke="#00E0FF" stroke-width="2" stroke-linecap="round" stroke-linejoin="round"/>
</g></g>
<g clip-path="url(#cp2)">
<polygon points="135.6,1564.2 328.8,1495.6 354.0,1491.4 376.4,1480.2 391.8,1480.0 405.8,1469.0 417.0,1469.0 433.8,1456.4 529.0,1455.8 558.3,1440.5 573.0,1440.2 586.0,1434.1 610.0,1424.0 1332.0,1424.0 1332.0,1484.9 1330.0,1485.0 1217.3,1491.1 1125.3,1503.4 1027.2,1516.6 972.0,1523.6 890.0,1529.0 724.0,1535.9 665.3,1544.7 470.0,1561.5 424.0,1565.6 382.0,1570.4 200.0,1570.4 177.6,1568.4" fill="#0000FF"/>
<polyline points="66.0,1581.9 135.6,1564.2 135.6,1564.2 328.8,1495.6 354.0,1491.4 376.4,1480.2 391.8,1480.0 405.8,1469.0 417.0,1469.0 433.8,1456.4 529.0,1455.8 558.3,1440.5 573.0,1440.2 586.0,1434.1 610.0,1424.0 1332.0,1424.0" fill="none" stroke="#111" stroke-width="1.9" stroke-linejoin="round"/>
<polyline points="135.6,1564.2 177.6,1568.4 200.0,1570.4 382.0,1570.4 424.0,1565.6 470.0,1561.5 665.3,1544.7 724.0,1535.9 890.0,1529.0 972.0,1523.6 1027.2,1516.6 1125.3,1503.4 1217.3,1491.1 1330.0,1485.0 1332.0,1484.9" fill="none" stroke="#000" stroke-width="2.4" stroke-linejoin="round"/>
<g filter="url(#rough)">
<path d="M177.1,1566.9 L217.6,1565.6" fill="none" stroke="#A8FF00" stroke-width="2.2" stroke-linecap="round" stroke-linejoin="round"/>
<path d="M208.0,1565.2 L218.7,1563.9" fill="none" stroke="#FF7000" stroke-width="3" stroke-linecap="round" stroke-linejoin="round"/>
<polygon points="205.9,1566.9 213.3,1564.3 221.9,1561.4 230.4,1559.9 245.3,1557.7 250.7,1554.5 251.7,1551.3 254.9,1556.7 259.2,1558.2 262.4,1565.2 266.7,1563.1 273.1,1558.8 278.4,1552.4 280.5,1548.6 283.7,1554.5 284.8,1566.3 296.5,1566.3 309.3,1560.9 322.1,1554.5 332.8,1548.1 337.1,1541.7 333.9,1535.3 330.7,1526.8 332.8,1525.7 337.1,1535.3 341.3,1539.6 345.6,1536.4 352.0,1528.9 362.7,1516.1 371.2,1507.6 381.9,1499.1 393.6,1488.4 393.0,1492.7 381.9,1505.0 372.9,1515.3 362.2,1528.1 353.7,1538.7 347.7,1547.3 341.8,1554.1 336.0,1558.8 330.7,1565.2 324.3,1567.8 205.9,1568.2" fill="#00D8FF" stroke="#00D8FF" stroke-width="4.2" stroke-linejoin="round"/>
<polygon points="205.9,1566.9 213.3,1564.3 221.9,1561.4 230.4,1559.9 245.3,1557.7 250.7,1554.5 251.7,1551.3 254.9,1556.7 259.2,1558.2 262.4,1565.2 266.7,1563.1 273.1,1558.8 278.4,1552.4 280.5,1548.6 283.7,1554.5 284.8,1566.3 296.5,1566.3 309.3,1560.9 322.1,1554.5 332.8,1548.1 337.1,1541.7 333.9,1535.3 330.7,1526.8 332.8,1525.7 337.1,1535.3 341.3,1539.6 345.6,1536.4 352.0,1528.9 362.7,1516.1 371.2,1507.6 381.9,1499.1 393.6,1488.4 393.0,1492.7 381.9,1505.0 372.9,1515.3 362.2,1528.1 353.7,1538.7 347.7,1547.3 341.8,1554.1 336.0,1558.8 330.7,1565.2 324.3,1567.8 205.9,1568.2" fill="#48FF00" stroke="#48FF00" stroke-width="2.7" stroke-linejoin="round"/>
<polygon points="205.9,1566.9 213.3,1564.3 221.9,1561.4 230.4,1559.9 245.3,1557.7 250.7,1554.5 251.7,1551.3 254.9,1556.7 259.2,1558.2 262.4,1565.2 266.7,1563.1 273.1,1558.8 278.4,1552.4 280.5,1548.6 283.7,1554.5 284.8,1566.3 296.5,1566.3 309.3,1560.9 322.1,1554.5 332.8,1548.1 337.1,1541.7 333.9,1535.3 330.7,1526.8 332.8,1525.7 337.1,1535.3 341.3,1539.6 345.6,1536.4 352.0,1528.9 362.7,1516.1 371.2,1507.6 381.9,1499.1 393.6,1488.4 393.0,1492.7 381.9,1505.0 372.9,1515.3 362.2,1528.1 353.7,1538.7 347.7,1547.3 341.8,1554.1 336.0,1558.8 330.7,1565.2 324.3,1567.8 205.9,1568.2" fill="#FFE000" stroke="#FFE000" stroke-width="1.2" stroke-linejoin="round"/>
<polygon points="205.9,1566.9 213.3,1564.3 221.9,1561.4 230.4,1559.9 245.3,1557.7 250.7,1554.5 251.7,1551.3 254.9,1556.7 259.2,1558.2 262.4,1565.2 266.7,1563.1 273.1,1558.8 278.4,1552.4 280.5,1548.6 283.7,1554.5 284.8,1566.3 296.5,1566.3 309.3,1560.9 322.1,1554.5 332.8,1548.1 337.1,1541.7 333.9,1535.3 330.7,1526.8 332.8,1525.7 337.1,1535.3 341.3,1539.6 345.6,1536.4 352.0,1528.9 362.7,1516.1 371.2,1507.6 381.9,1499.1 393.6,1488.4 393.0,1492.7 381.9,1505.0 372.9,1515.3 362.2,1528.1 353.7,1538.7 347.7,1547.3 341.8,1554.1 336.0,1558.8 330.7,1565.2 324.3,1567.8 205.9,1568.2" fill="#FF0000"/>
<polygon points="328.5,1497.4 343.5,1498.6 356.3,1504.4 366.9,1508.0 381.9,1509.3 480.0,1510.2 522.7,1510.6 522.7,1514.0 480.0,1514.0 381.9,1512.9 362.7,1511.9 352.0,1508.7 341.3,1504.4 328.5,1502.3" fill="#00D8FF" stroke="#00D8FF" stroke-width="3.4" stroke-linejoin="round"/>
<polygon points="328.5,1497.4 343.5,1498.6 356.3,1504.4 366.9,1508.0 381.9,1509.3 480.0,1510.2 522.7,1510.6 522.7,1514.0 480.0,1514.0 381.9,1512.9 362.7,1511.9 352.0,1508.7 341.3,1504.4 328.5,1502.3" fill="#48FF00" stroke="#48FF00" stroke-width="2.2" stroke-linejoin="round"/>
<polygon points="328.5,1497.4 343.5,1498.6 356.3,1504.4 366.9,1508.0 381.9,1509.3 480.0,1510.2 522.7,1510.6 522.7,1514.0 480.0,1514.0 381.9,1512.9 362.7,1511.9 352.0,1508.7 341.3,1504.4 328.5,1502.3" fill="#FFE000" stroke="#FFE000" stroke-width="1.0" stroke-linejoin="round"/>
<polygon points="328.5,1497.4 343.5,1498.6 356.3,1504.4 366.9,1508.0 381.9,1509.3 480.0,1510.2 522.7,1510.6 522.7,1514.0 480.0,1514.0 381.9,1512.9 362.7,1511.9 352.0,1508.7 341.3,1504.4 328.5,1502.3" fill="#FF0000"/>
<path d="M393.6,1488.4 L396.8,1482.0 L401.1,1473.5" fill="none" stroke="#00A8FF" stroke-width="4.8" stroke-linecap="round" stroke-linejoin="round"/>
<path d="M393.6,1488.4 L396.8,1482.0" fill="none" stroke="#48FF00" stroke-width="3" stroke-linecap="round" stroke-linejoin="round"/>
<path d="M396.8,1482.0 L401.1,1473.5" fill="none" stroke="#00E0FF" stroke-width="3" stroke-linecap="round" stroke-linejoin="round"/>
<path d="M317.9,1502.3 L328.5,1507.6 L334.9,1516.1 L338.1,1524.7 L341.3,1533.2" fill="none" stroke="#00A8FF" stroke-width="4.4" stroke-linecap="round" stroke-linejoin="round"/>
<path d="M317.9,1502.3 L328.5,1507.6" fill="none" stroke="#00E0FF" stroke-width="2.6" stroke-linecap="round" stroke-linejoin="round"/>
<path d="M328.5,1507.6 L334.9,1516.1" fill="none" stroke="#48FF00" stroke-width="2.6" stroke-linecap="round" stroke-linejoin="round"/>
<path d="M334.9,1516.1 L338.1,1524.7" fill="none" stroke="#FFE000" stroke-width="2.6" stroke-linecap="round" stroke-linejoin="round"/>
<path d="M338.1,1524.7 L341.3,1533.2" fill="none" stroke="#FFE000" stroke-width="2.6" stroke-linecap="round" stroke-linejoin="round"/>
<path d="M330.7,1501.2 L337.1,1511.9 L340.3,1522.5 L344.5,1533.2" fill="none" stroke="#00A8FF" stroke-width="4.4" stroke-linecap="round" stroke-linejoin="round"/>
<path d="M330.7,1501.2 L337.1,1511.9" fill="none" stroke="#48FF00" stroke-width="2.6" stroke-linecap="round" stroke-linejoin="round"/>
<path d="M337.1,1511.9 L340.3,1522.5" fill="none" stroke="#FFE000" stroke-width="2.6" stroke-linecap="round" stroke-linejoin="round"/>
<path d="M340.3,1522.5 L344.5,1533.2" fill="none" stroke="#FF7000" stroke-width="2.6" stroke-linecap="round" stroke-linejoin="round"/>
<path d="M283.7,1515.1 L298.7,1519.3 L309.3,1523.6 L322.1,1525.7 L330.7,1524.7" fill="none" stroke="#00A8FF" stroke-width="4.2" stroke-linecap="round" stroke-linejoin="round"/>
<path d="M283.7,1515.1 L298.7,1519.3" fill="none" stroke="#00E0FF" stroke-width="2.4" stroke-linecap="round" stroke-linejoin="round"/>
<path d="M298.7,1519.3 L309.3,1523.6" fill="none" stroke="#00FFA8" stroke-width="2.4" stroke-linecap="round" stroke-linejoin="round"/>
<path d="M309.3,1523.6 L322.1,1525.7" fill="none" stroke="#A8FF00" stroke-width="2.4" stroke-linecap="round" stroke-linejoin="round"/>
<path d="M322.1,1525.7 L330.7,1524.7" fill="none" stroke="#00E0FF" stroke-width="2.4" stroke-linecap="round" stroke-linejoin="round"/>
<path d="M362.7,1490.5 L381.9,1490.1" fill="none" stroke="#00E0FF" stroke-width="1.6" stroke-linecap="round" stroke-linejoin="round"/>
<path d="M347.7,1554.5 L362.7,1557.7 L377.6,1559.2 L392.5,1560.7" fill="none" stroke="#00A8FF" stroke-width="4.2" stroke-linecap="round" stroke-linejoin="round"/>
<path d="M347.7,1554.5 L362.7,1557.7" fill="none" stroke="#00E0FF" stroke-width="2.4" stroke-linecap="round" stroke-linejoin="round"/>
<path d="M362.7,1557.7 L377.6,1559.2" fill="none" stroke="#48FF00" stroke-width="2.4" stroke-linecap="round" stroke-linejoin="round"/>
<path d="M377.6,1559.2 L392.5,1560.7" fill="none" stroke="#FFE000" stroke-width="2.4" stroke-linecap="round" stroke-linejoin="round"/>
<polygon points="390.4,1559.7 426.7,1559.7 458.7,1557.5 480.0,1557.3 480.0,1560.1 458.7,1560.5 426.7,1562.4 390.4,1562.2" fill="#00D8FF" stroke="#00D8FF" stroke-width="2.9" stroke-linejoin="round"/>
<polygon points="390.4,1559.7 426.7,1559.7 458.7,1557.5 480.0,1557.3 480.0,1560.1 458.7,1560.5 426.7,1562.4 390.4,1562.2" fill="#48FF00" stroke="#48FF00" stroke-width="1.9" stroke-linejoin="round"/>
<polygon points="390.4,1559.7 426.7,1559.7 458.7,1557.5 480.0,1557.3 480.0,1560.1 458.7,1560.5 426.7,1562.4 390.4,1562.2" fill="#FFE000" stroke="#FFE000" stroke-width="0.8" stroke-linejoin="round"/>
<polygon points="390.4,1559.7 426.7,1559.7 458.7,1557.5 480.0,1557.3 480.0,1560.1 458.7,1560.5 426.7,1562.4 390.4,1562.2" fill="#FF0000"/>
<path d="M462.9,1543.0 L480.0,1542.8" fill="none" stroke="#FFA000" stroke-width="2.6" stroke-linecap="round" stroke-linejoin="round"/>
<polygon points="478.0,1509.5 523.0,1509.5 523.0,1513.5 478.0,1513.5" fill="#00D8FF" stroke="#00D8FF" stroke-width="2.9" stroke-linejoin="round"/>
<polygon points="478.0,1509.5 523.0,1509.5 523.0,1513.5 478.0,1513.5" fill="#48FF00" stroke="#48FF00" stroke-width="1.9" stroke-linejoin="round"/>
<polygon points="478.0,1509.5 523.0,1509.5 523.0,1513.5 478.0,1513.5" fill="#FFE000" stroke="#FFE000" stroke-width="0.8" stroke-linejoin="round"/>
<polygon points="478.0,1509.5 523.0,1509.5 523.0,1513.5 478.0,1513.5" fill="#FF0000"/>
<path d="M505.0,1512.0 L523.0,1512.0" fill="none" stroke="#A8FF00" stroke-width="3" stroke-linecap="round" stroke-linejoin="round"/>
<polygon points="462.0,1541.0 500.0,1539.8 688.0,1538.5 690.0,1542.5 571.0,1543.5 500.0,1543.6 462.0,1542.6" fill="#00D8FF" stroke="#00D8FF" stroke-width="3.4" stroke-linejoin="round"/>
<polygon points="462.0,1541.0 500.0,1539.8 688.0,1538.5 690.0,1542.5 571.0,1543.5 500.0,1543.6 462.0,1542.6" fill="#48FF00" stroke="#48FF00" stroke-width="2.2" stroke-linejoin="round"/>
<polygon points="462.0,1541.0 500.0,1539.8 688.0,1538.5 690.0,1542.5 571.0,1543.5 500.0,1543.6 462.0,1542.6" fill="#FFE000" stroke="#FFE000" stroke-width="1.0" stroke-linejoin="round"/>
<polygon points="462.0,1541.0 500.0,1539.8 688.0,1538.5 690.0,1542.5 571.0,1543.5 500.0,1543.6 462.0,1542.6" fill="#FF0000"/>
<path d="M566.0,1506.0 L568.0,1514.0 L570.0,1524.0 L566.0,1532.0" fill="none" stroke="#00A8FF" stroke-width="5.2" stroke-linecap="round" stroke-linejoin="round"/>
<path d="M566.0,1506.0 L568.0,1514.0" fill="none" stroke="#00E0FF" stroke-width="3.4" stroke-linecap="round" stroke-linejoin="round"/>
<path d="M568.0,1514.0 L570.0,1524.0" fill="none" stroke="#A8FF00" stroke-width="3.4" stroke-linecap="round" stroke-linejoin="round"/>
<path d="M570.0,1524.0 L566.0,1532.0" fill="none" stroke="#FFE000" stroke-width="3.4" stroke-linecap="round" stroke-linejoin="round"/>
<polygon points="573.0,1519.0 585.0,1521.5 700.0,1524.5 768.0,1525.0 790.0,1522.0 812.0,1517.7 856.0,1509.5 880.0,1508.8 880.0,1512.2 856.0,1513.5 812.0,1522.0 790.0,1526.5 768.0,1529.5 700.0,1529.0 585.0,1526.0 573.0,1524.0" fill="#00D8FF" stroke="#00D8FF" stroke-width="3.4" stroke-linejoin="round"/>
<polygon points="573.0,1519.0 585.0,1521.5 700.0,1524.5 768.0,1525.0 790.0,1522.0 812.0,1517.7 856.0,1509.5 880.0,1508.8 880.0,1512.2 856.0,1513.5 812.0,1522.0 790.0,1526.5 768.0,1529.5 700.0,1529.0 585.0,1526.0 573.0,1524.0" fill="#48FF00" stroke="#48FF00" stroke-width="2.2" stroke-linejoin="round"/>
<polygon points="573.0,1519.0 585.0,1521.5 700.0,1524.5 768.0,1525.0 790.0,1522.0 812.0,1517.7 856.0,1509.5 880.0,1508.8 880.0,1512.2 856.0,1513.5 812.0,1522.0 790.0,1526.5 768.0,1529.5 700.0,1529.0 585.0,1526.0 573.0,1524.0" fill="#FFE000" stroke="#FFE000" stroke-width="1.0" stroke-linejoin="round"/>
<polygon points="573.0,1519.0 585.0,1521.5 700.0,1524.5 768.0,1525.0 790.0,1522.0 812.0,1517.7 856.0,1509.5 880.0,1508.8 880.0,1512.2 856.0,1513.5 812.0,1522.0 790.0,1526.5 768.0,1529.5 700.0,1529.0 585.0,1526.0 573.0,1524.0" fill="#FF0000"/>
<path d="M880.0,1510.5 L905.0,1510.8" fill="none" stroke="#A8FF00" stroke-width="2" stroke-linecap="round" stroke-linejoin="round"/>
<path d="M558.0,1467.8 L621.0,1467.8" fill="none" stroke="#00E0FF" stroke-width="1.5" stroke-linecap="round" stroke-linejoin="round"/>
<path d="M575.0,1466.8 L600.0,1466.8" fill="none" stroke="#00FFA8" stroke-width="1.5" stroke-linecap="round" stroke-linejoin="round"/>
<path d="M1118.0,1435.5 L1124.0,1435.5" fill="none" stroke="#00E0A0" stroke-width="1.5" stroke-linecap="round" stroke-linejoin="round"/>
<path d="M529.0,1455.5 L540.0,1451.0" fill="none" stroke="#FFA000" stroke-width="2.2" stroke-linecap="round" stroke-linejoin="round"/>
</g></g>
<g clip-path="url(#cp3)">
<polygon points="138.4,1713.6 340.0,1643.6 351.2,1638.0 365.2,1638.0 384.8,1626.8 398.8,1626.8 415.6,1614.2 429.6,1614.2 446.4,1601.6 545.0,1602.9 562.7,1591.1 580.0,1580.0 1332.0,1580.0 1332.0,1634.7 1330.0,1634.8 1248.0,1639.4 1125.3,1654.7 1002.7,1670.7 890.0,1680.0 782.7,1685.9 724.0,1689.4 636.0,1699.7 470.0,1712.8 438.0,1716.4 396.0,1720.6 205.6,1720.6 177.6,1719.2" fill="#0000FF"/>
<polyline points="66.0,1730.4 138.4,1713.6 138.4,1713.6 340.0,1643.6 351.2,1638.0 365.2,1638.0 384.8,1626.8 398.8,1626.8 415.6,1614.2 429.6,1614.2 446.4,1601.6 545.0,1602.9 562.7,1591.1 580.0,1580.0 1332.0,1580.0" fill="none" stroke="#111" stroke-width="1.9" stroke-linejoin="round"/>
<polyline points="138.4,1713.6 177.6,1719.2 205.6,1720.6 396.0,1720.6 438.0,1716.4 470.0,1712.8 636.0,1699.7 724.0,1689.4 782.7,1685.9 890.0,1680.0 1002.7,1670.7 1125.3,1654.7 1248.0,1639.4 1330.0,1634.8 1332.0,1634.7" fill="none" stroke="#000" stroke-width="2.4" stroke-linejoin="round"/>
<g filter="url(#rough)">
<path d="M185.6,1715.9 L228.3,1714.6" fill="none" stroke="#48FF00" stroke-width="2" stroke-linecap="round" stroke-linejoin="round"/>
<polygon points="215.9,1718.0 224.0,1714.6 232.5,1711.8 238.9,1710.1 249.6,1708.0 258.1,1703.7 262.4,1709.1 266.7,1712.7 273.1,1710.1 281.6,1709.1 285.9,1698.4 288.0,1696.3 290.1,1706.9 293.3,1715.5 305.1,1713.3 317.9,1710.1 328.5,1704.8 337.1,1700.5 343.5,1696.3 341.3,1685.6 338.1,1677.1 343.5,1681.3 347.7,1689.9 352.0,1681.3 358.4,1674.9 369.1,1666.4 377.6,1658.9 386.1,1649.3 394.7,1638.7 403.2,1628.0 407.5,1623.7 407.5,1632.3 401.5,1642.9 393.0,1653.6 387.4,1660.0 381.9,1667.5 371.6,1678.1 363.7,1687.7 361.0,1696.3 360.1,1701.6 364.8,1702.7 384.0,1706.5 416.0,1709.1 458.7,1708.6 480.0,1705.2 501.3,1703.7 501.3,1708.6 480.0,1709.5 458.7,1712.3 416.0,1712.9 384.0,1711.2 364.8,1706.9 352.0,1707.4 341.3,1711.2 334.9,1716.5 330.7,1719.1 215.9,1719.1" fill="#00D8FF" stroke="#00D8FF" stroke-width="4.2" stroke-linejoin="round"/>
<polygon points="215.9,1718.0 224.0,1714.6 232.5,1711.8 238.9,1710.1 249.6,1708.0 258.1,1703.7 262.4,1709.1 266.7,1712.7 273.1,1710.1 281.6,1709.1 285.9,1698.4 288.0,1696.3 290.1,1706.9 293.3,1715.5 305.1,1713.3 317.9,1710.1 328.5,1704.8 337.1,1700.5 343.5,1696.3 341.3,1685.6 338.1,1677.1 343.5,1681.3 347.7,1689.9 352.0,1681.3 358.4,1674.9 369.1,1666.4 377.6,1658.9 386.1,1649.3 394.7,1638.7 403.2,1628.0 407.5,1623.7 407.5,1632.3 401.5,1642.9 393.0,1653.6 387.4,1660.0 381.9,1667.5 371.6,1678.1 363.7,1687.7 361.0,1696.3 360.1,1701.6 364.8,1702.7 384.0,1706.5 416.0,1709.1 458.7,1708.6 480.0,1705.2 501.3,1703.7 501.3,1708.6 480.0,1709.5 458.7,1712.3 416.0,1712.9 384.0,1711.2 364.8,1706.9 352.0,1707.4 341.3,1711.2 334.9,1716.5 330.7,1719.1 215.9,1719.1" fill="#48FF00" stroke="#48FF00" stroke-width="2.7" stroke-linejoin="round"/>
<polygon points="215.9,1718.0 224.0,1714.6 232.5,1711.8 238.9,1710.1 249.6,1708.0 258.1,1703.7 262.4,1709.1 266.7,1712.7 273.1,1710.1 281.6,1709.1 285.9,1698.4 288.0,1696.3 290.1,1706.9 293.3,1715.5 305.1,1713.3 317.9,1710.1 328.5,1704.8 337.1,1700.5 343.5,1696.3 341.3,1685.6 338.1,1677.1 343.5,1681.3 347.7,1689.9 352.0,1681.3 358.4,1674.9 369.1,1666.4 377.6,1658.9 386.1,1649.3 394.7,1638.7 403.2,1628.0 407.5,1623.7 407.5,1632.3 401.5,1642.9 393.0,1653.6 387.4,1660.0 381.9,1667.5 371.6,1678.1 363.7,1687.7 361.0,1696.3 360.1,1701.6 364.8,1702.7 384.0,1706.5 416.0,1709.1 458.7,1708.6 480.0,1705.2 501.3,1703.7 501.3,1708.6 480.0,1709.5 458.7,1712.3 416.0,1712.9 384.0,1711.2 364.8,1706.9 352.0,1707.4 341.3,1711.2 334.9,1716.5 330.7,1719.1 215.9,1719.1" fill="#FFE000" stroke="#FFE000" stroke-width="1.2" stroke-linejoin="round"/>
<polygon points="215.9,1718.0 224.0,1714.6 232.5,1711.8 238.9,1710.1 249.6,1708.0 258.1,1703.7 262.4,1709.1 266.7,1712.7 273.1,1710.1 281.6,1709.1 285.9,1698.4 288.0,1696.3 290.1,1706.9 293.3,1715.5 305.1,1713.3 317.9,1710.1 328.5,1704.8 337.1,1700.5 343.5,1696.3 341.3,1685.6 338.1,1677.1 343.5,1681.3 347.7,1689.9 352.0,1681.3 358.4,1674.9 369.1,1666.4 377.6,1658.9 386.1,1649.3 394.7,1638.7 403.2,1628.0 407.5,1623.7 407.5,1632.3 401.5,1642.9 393.0,1653.6 387.4,1660.0 381.9,1667.5 371.6,1678.1 363.7,1687.7 361.0,1696.3 360.1,1701.6 364.8,1702.7 384.0,1706.5 416.0,1709.1 458.7,1708.6 480.0,1705.2 501.3,1703.7 501.3,1708.6 480.0,1709.5 458.7,1712.3 416.0,1712.9 384.0,1711.2 364.8,1706.9 352.0,1707.4 341.3,1711.2 334.9,1716.5 330.7,1719.1 215.9,1719.1" fill="#FF0000"/>
<polygon points="337.1,1644.6 352.0,1644.6 364.8,1650.4 381.9,1654.7 394.7,1656.8 480.0,1656.8 520.0,1657.2 571.5,1662.0 573.0,1664.5 571.5,1667.0 520.0,1663.0 480.0,1662.1 394.7,1662.1 377.6,1660.0 362.7,1655.7 352.0,1650.4 337.1,1649.3" fill="#00D8FF" stroke="#00D8FF" stroke-width="3.4" stroke-linejoin="round"/>
<polygon points="337.1,1644.6 352.0,1644.6 364.8,1650.4 381.9,1654.7 394.7,1656.8 480.0,1656.8 520.0,1657.2 571.5,1662.0 573.0,1664.5 571.5,1667.0 520.0,1663.0 480.0,1662.1 394.7,1662.1 377.6,1660.0 362.7,1655.7 352.0,1650.4 337.1,1649.3" fill="#48FF00" stroke="#48FF00" stroke-width="2.2" stroke-linejoin="round"/>
<polygon points="337.1,1644.6 352.0,1644.6 364.8,1650.4 381.9,1654.7 394.7,1656.8 480.0,1656.8 520.0,1657.2 571.5,1662.0 573.0,1664.5 571.5,1667.0 520.0,1663.0 480.0,1662.1 394.7,1662.1 377.6,1660.0 362.7,1655.7 352.0,1650.4 337.1,1649.3" fill="#FFE000" stroke="#FFE000" stroke-width="1.0" stroke-linejoin="round"/>
<polygon points="337.1,1644.6 352.0,1644.6 364.8,1650.4 381.9,1654.7 394.7,1656.8 480.0,1656.8 520.0,1657.2 571.5,1662.0 573.0,1664.5 571.5,1667.0 520.0,1663.0 480.0,1662.1 394.7,1662.1 377.6,1660.0 362.7,1655.7 352.0,1650.4 337.1,1649.3" fill="#FF0000"/>
<polygon points="296.5,1662.6 309.3,1664.3 324.3,1668.5 338.1,1674.9 338.1,1677.9 324.3,1671.1 309.3,1666.8 296.5,1664.7" fill="#00D8FF" stroke="#00D8FF" stroke-width="3.4" stroke-linejoin="round"/>
<polygon points="296.5,1662.6 309.3,1664.3 324.3,1668.5 338.1,1674.9 338.1,1677.9 324.3,1671.1 309.3,1666.8 296.5,1664.7" fill="#48FF00" stroke="#48FF00" stroke-width="2.2" stroke-linejoin="round"/>
<polygon points="296.5,1662.6 309.3,1664.3 324.3,1668.5 338.1,1674.9 338.1,1677.9 324.3,1671.1 309.3,1666.8 296.5,1664.7" fill="#FFE000" stroke="#FFE000" stroke-width="1.0" stroke-linejoin="round"/>
<polygon points="296.5,1662.6 309.3,1664.3 324.3,1668.5 338.1,1674.9 338.1,1677.9 324.3,1671.1 309.3,1666.8 296.5,1664.7" fill="#FF0000"/>
<path d="M337.1,1651.5 L343.5,1660.0 L347.7,1670.7 L349.9,1681.3" fill="none" stroke="#00A8FF" stroke-width="4.4" stroke-linecap="round" stroke-linejoin="round"/>
<path d="M337.1,1651.5 L343.5,1660.0" fill="none" stroke="#48FF00" stroke-width="2.6" stroke-linecap="round" stroke-linejoin="round"/>
<path d="M343.5,1660.0 L347.7,1670.7" fill="none" stroke="#FFE000" stroke-width="2.6" stroke-linecap="round" stroke-linejoin="round"/>
<path d="M347.7,1670.7 L349.9,1681.3" fill="none" stroke="#FFE000" stroke-width="2.6" stroke-linecap="round" stroke-linejoin="round"/>
<path d="M381.9,1632.3 L393.0,1630.1" fill="none" stroke="#FF0000" stroke-width="4" stroke-linecap="round" stroke-linejoin="round"/>
<path d="M378.7,1633.5 L382.9,1632.3" fill="none" stroke="#FFE000" stroke-width="3" stroke-linecap="round" stroke-linejoin="round"/>
<path d="M407.5,1623.7 L411.7,1619.5" fill="none" stroke="#48FF00" stroke-width="3" stroke-linecap="round" stroke-linejoin="round"/>
<path d="M473.6,1694.6 L480.0,1693.7" fill="none" stroke="#FFA000" stroke-width="4" stroke-linecap="round" stroke-linejoin="round"/>
<path d="M192.0,1698.8 L330.7,1649.8" fill="none" stroke="#00C0FF" stroke-width="1.2" stroke-linecap="round" stroke-linejoin="round"/>
<polygon points="521.0,1604.5 535.0,1603.0 550.0,1600.5 556.0,1607.0 580.0,1612.3 694.7,1612.8 760.0,1613.2 760.0,1614.8 694.7,1615.0 580.0,1615.0 548.0,1611.0 521.0,1609.5" fill="#00D8FF" stroke="#00D8FF" stroke-width="2.9" stroke-linejoin="round"/>
<polygon points="521.0,1604.5 535.0,1603.0 550.0,1600.5 556.0,1607.0 580.0,1612.3 694.7,1612.8 760.0,1613.2 760.0,1614.8 694.7,1615.0 580.0,1615.0 548.0,1611.0 521.0,1609.5" fill="#48FF00" stroke="#48FF00" stroke-width="1.9" stroke-linejoin="round"/>
<polygon points="521.0,1604.5 535.0,1603.0 550.0,1600.5 556.0,1607.0 580.0,1612.3 694.7,1612.8 760.0,1613.2 760.0,1614.8 694.7,1615.0 580.0,1615.0 548.0,1611.0 521.0,1609.5" fill="#FFE000" stroke="#FFE000" stroke-width="0.8" stroke-linejoin="round"/>
<polygon points="521.0,1604.5 535.0,1603.0 550.0,1600.5 556.0,1607.0 580.0,1612.3 694.7,1612.8 760.0,1613.2 760.0,1614.8 694.7,1615.0 580.0,1615.0 548.0,1611.0 521.0,1609.5" fill="#FF0000"/>
<path d="M760.0,1614.0 L1050.0,1611.5" fill="none" stroke="#48FF00" stroke-width="2.2" stroke-linecap="round" stroke-linejoin="round"/>
<path d="M760.0,1614.0 L830.0,1613.0" fill="none" stroke="#FFE000" stroke-width="2.2" stroke-linecap="round" stroke-linejoin="round"/>
<polygon points="583.0,1657.0 590.0,1658.0 604.0,1664.0 618.0,1671.0 650.0,1672.5 753.0,1672.0 790.0,1668.0 812.0,1664.4 900.0,1657.3 1051.7,1656.0 1064.0,1648.7 1110.0,1637.0 1113.0,1642.0 1066.0,1655.0 1054.0,1662.8 900.0,1663.8 812.0,1670.6 790.0,1674.5 753.0,1679.0 612.0,1679.0 597.0,1672.0 583.0,1664.0" fill="#00D8FF" stroke="#00D8FF" stroke-width="4.2" stroke-linejoin="round"/>
<polygon points="583.0,1657.0 590.0,1658.0 604.0,1664.0 618.0,1671.0 650.0,1672.5 753.0,1672.0 790.0,1668.0 812.0,1664.4 900.0,1657.3 1051.7,1656.0 1064.0,1648.7 1110.0,1637.0 1113.0,1642.0 1066.0,1655.0 1054.0,1662.8 900.0,1663.8 812.0,1670.6 790.0,1674.5 753.0,1679.0 612.0,1679.0 597.0,1672.0 583.0,1664.0" fill="#48FF00" stroke="#48FF00" stroke-width="2.7" stroke-linejoin="round"/>
<polygon points="583.0,1657.0 590.0,1658.0 604.0,1664.0 618.0,1671.0 650.0,1672.5 753.0,1672.0 790.0,1668.0 812.0,1664.4 900.0,1657.3 1051.7,1656.0 1064.0,1648.7 1110.0,1637.0 1113.0,1642.0 1066.0,1655.0 1054.0,1662.8 900.0,1663.8 812.0,1670.6 790.0,1674.5 753.0,1679.0 612.0,1679.0 597.0,1672.0 583.0,1664.0" fill="#FFE000" stroke="#FFE000" stroke-width="1.2" stroke-linejoin="round"/>
<polygon points="583.0,1657.0 590.0,1658.0 604.0,1664.0 618.0,1671.0 650.0,1672.5 753.0,1672.0 790.0,1668.0 812.0,1664.4 900.0,1657.3 1051.7,1656.0 1064.0,1648.7 1110.0,1637.0 1113.0,1642.0 1066.0,1655.0 1054.0,1662.8 900.0,1663.8 812.0,1670.6 790.0,1674.5 753.0,1679.0 612.0,1679.0 597.0,1672.0 583.0,1664.0" fill="#FF0000"/>
<path d="M1110.0,1640.0 L1135.0,1634.0 L1156.0,1628.7 L1175.0,1621.0 L1196.0,1613.3" fill="none" stroke="#00A8FF" stroke-width="5.3" stroke-linecap="round" stroke-linejoin="round"/>
<path d="M1110.0,1640.0 L1135.0,1634.0" fill="none" stroke="#FF7000" stroke-width="3.5" stroke-linecap="round" stroke-linejoin="round"/>
<path d="M1135.0,1634.0 L1156.0,1628.7" fill="none" stroke="#FFE000" stroke-width="3.5" stroke-linecap="round" stroke-linejoin="round"/>
<path d="M1156.0,1628.7 L1175.0,1621.0" fill="none" stroke="#48FF00" stroke-width="3.5" stroke-linecap="round" stroke-linejoin="round"/>
<path d="M1175.0,1621.0 L1196.0,1613.3" fill="none" stroke="#00E0FF" stroke-width="3.5" stroke-linecap="round" stroke-linejoin="round"/>
<polygon points="473.2,1690.0 688.8,1688.6 689.0,1693.5 473.2,1694.8" fill="#00D8FF" stroke="#00D8FF" stroke-width="3.4" stroke-linejoin="round"/>
<polygon points="473.2,1690.0 688.8,1688.6 689.0,1693.5 473.2,1694.8" fill="#48FF00" stroke="#48FF00" stroke-width="2.2" stroke-linejoin="round"/>
<polygon points="473.2,1690.0 688.8,1688.6 689.0,1693.5 473.2,1694.8" fill="#FFE000" stroke="#FFE000" stroke-width="1.0" stroke-linejoin="round"/>
<polygon points="473.2,1690.0 688.8,1688.6 689.0,1693.5 473.2,1694.8" fill="#FF0000"/>
<path d="M583.0,1645.4 L621.0,1645.4" fill="none" stroke="#FFE000" stroke-width="2.5" stroke-linecap="round" stroke-linejoin="round"/>
<path d="M738.0,1646.0 L1052.0,1646.0" fill="none" stroke="#00B0FF" stroke-width="1.8" stroke-linecap="round" stroke-linejoin="round"/>
<path d="M760.0,1646.0 L800.0,1646.0" fill="none" stroke="#00FFA8" stroke-width="1.8" stroke-linecap="round" stroke-linejoin="round"/>
<path d="M960.0,1646.0 L1052.0,1646.0" fill="none" stroke="#48FF00" stroke-width="1.8" stroke-linecap="round" stroke-linejoin="round"/>
<path d="M671,1681L730,1680L735,1688L690,1692L671,1690Z" fill="#0070FF"/>
<path d="M592,1658.6H659V1662.5H600Z" fill="#0070FF"/>
<path d="M709,1657H722V1671H709Z" fill="#0070FF"/>
<path d="M736,1658.6H759V1666H736Z" fill="#0070FF"/>
<path d="M827,1670L895,1665.5L895,1675L880,1676.5L827,1677Z" fill="#0070FF"/>
<path d="M835,1676.5H870V1679H835Z" fill="#00C8FF"/>
<path d="M806.0,1633.0 L819.9,1614.0 L836.3,1633.0 L851.2,1614.0 L868.0,1633.0 L885.1,1614.0 L897.6,1633.0 L909.7,1614.0 L928.4,1633.0 L942.5,1614.0 L956.3,1633.0 L976.3,1614.0 L992.1,1633.0 L1010.8,1614.0 L1026.6,1633.0 L1043.7,1614.0" fill="none" stroke="#00C8FF" stroke-width="2.2" stroke-linecap="round" stroke-linejoin="round"/>
<path d="M812.0,1632.0 L834.3,1615.0 L859.0,1632.0 L880.3,1615.0 L903.7,1632.0 L926.4,1615.0 L943.0,1632.0 L966.6,1615.0 L988.5,1632.0 L1007.5,1615.0 L1023.8,1632.0" fill="none" stroke="#48FF00" stroke-width="1.6" stroke-linecap="round" stroke-linejoin="round"/>
<path d="M820.0,1630.0 L846.6,1616.0 L876.7,1630.0 L909.0,1616.0 L939.0,1630.0 L971.9,1616.0 L997.4,1630.0" fill="none" stroke="#FFE000" stroke-width="1.3" stroke-linecap="round" stroke-linejoin="round"/>
</g></g>
<rect x="66.3" y="1122.7" width="1263.7" height="153.2" fill="none" stroke="#000" stroke-width="1.25" stroke-dasharray="6.4 4.3"/>
<rect x="66.3" y="1278.3" width="1263.7" height="152.5" fill="none" stroke="#000" stroke-width="1.25" stroke-dasharray="6.4 4.3"/>
<rect x="66.3" y="1434.5" width="1263.7" height="152.4" fill="none" stroke="#000" stroke-width="1.25" stroke-dasharray="6.4 4.3"/>
<rect x="66.3" y="1590.0" width="1263.7" height="152.9" fill="none" stroke="#000" stroke-width="1.25" stroke-dasharray="6.4 4.3"/>
<text class="sr" x="68.7" y="1144.7" font-size="24.7">1st month of closure</text>
<text class="sr" x="74.2" y="1307.6" font-size="24.7">1st year of closure</text>
<text class="sr" x="73.8" y="1464.2" font-size="24.7">2nd year of closure</text>
<text class="sr" x="74.2" y="1629" font-size="24.7">Prior to failure</text>
<path d="M1021,1691.5V1717H1321.6V1691.5" fill="none" stroke="#000" stroke-width="1.3"/>
<text class="sr" x="1175.6" y="1699.2" font-size="24.7" text-anchor="middle">100 m</text>
<rect x="1389.7" y="1293.8" width="53" height="23.5" fill="#FF0000"/>
<rect x="1389.7" y="1317.3" width="53" height="23.1" fill="#FF7000"/>
<rect x="1389.7" y="1340.4" width="53" height="23.2" fill="#FFE000"/>
<rect x="1389.7" y="1363.6" width="53" height="23.1" fill="#A8FF00"/>
<rect x="1389.7" y="1386.7" width="53" height="22.9" fill="#38FF00"/>
<rect x="1389.7" y="1409.6" width="53" height="23.7" fill="#00FF38"/>
<rect x="1389.7" y="1433.3" width="53" height="23.1" fill="#00FFA8"/>
<rect x="1389.7" y="1456.4" width="53" height="22.7" fill="#00E0FF"/>
<rect x="1389.7" y="1479.1" width="53" height="23.2" fill="#0070FF"/>
<rect x="1389.7" y="1502.3" width="53" height="23.1" fill="#0000FF"/>
<path d="M1389.7,1293.8H1459.5M1389.7,1317.3H1459.5M1389.7,1340.4H1459.5M1389.7,1363.6H1459.5M1389.7,1386.7H1459.5M1389.7,1409.6H1459.5M1389.7,1433.3H1459.5M1389.7,1456.4H1459.5M1389.7,1479.1H1459.5M1389.7,1502.3H1459.5M1389.7,1525.4H1459.5" fill="none" stroke="#000" stroke-width="1.4"/>
<path d="M1389.9,1293.1V1526.1000000000001M1442.7,1293.1V1526.1000000000001" fill="none" stroke="#000" stroke-width="2"/>
<text class="sr" x="1415.6" y="1242.5" font-size="24.7" text-anchor="middle">Shear strain</text>
<text class="sr" x="1415.5" y="1272.4" font-size="24.7" text-anchor="middle">(%)</text>
<text class="sr" x="1468.8" y="1297" font-size="24.7">10</text>
<text class="sr" x="1468.8" y="1351.8" font-size="24.7">7.5</text>
<text class="sr" x="1468.8" y="1408.6" font-size="24.7">5</text>
<text class="sr" x="1468.8" y="1468.2" font-size="24.7">2.5</text>
<text class="sr" x="1468.8" y="1522.2" font-size="24.7">0</text>
</g>
</svg>
</body></html>
